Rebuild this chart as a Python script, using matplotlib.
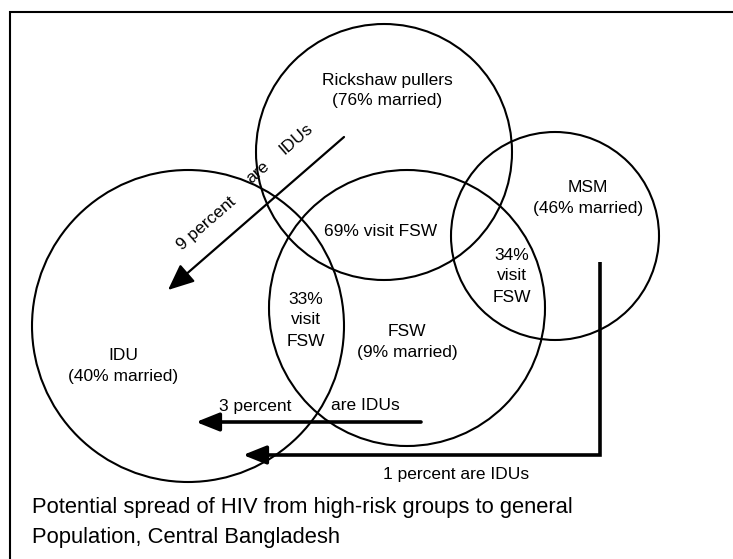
import matplotlib
matplotlib.use("Agg")
import matplotlib.pyplot as plt
from matplotlib.patches import Circle

plt.rcParams['font.family'] = ['Liberation Sans', 'DejaVu Sans']

# data
groups = ["Rickshaw pullers", "MSM", "FSW", "IDU"]
married_pct = [76, 46, 9, 40]
visit_fsw_pct = [69, 34, 33]      # rickshaw pullers, MSM, IDU
idu_pct = [9, 3, 1]               # rickshaw pullers, FSW, MSM
caption = ["Potential spread of HIV from high-risk groups to general",
           "Population, Central Bangladesh"]

# layout (pixel coords, y down)
centers = [(384, 152), (555, 236), (407, 308), (188, 326)]
radii = [128, 104, 138, 156]

fig = plt.figure(figsize=(7.33, 5.59), dpi=100)
ax = fig.add_axes([0, 0, 1, 1])
ax.set_xlim(0, 733)
ax.set_ylim(559, 0)
ax.axis("off")

# frame (only top and left are visible)
ax.plot([10, 10, 733], [559, 12, 12], color="black", lw=1.5, solid_joinstyle="miter")

for (cx, cy), r in zip(centers, radii):
    ax.add_patch(Circle((cx, cy), r, fill=False, ec="black", lw=1.5, zorder=3))

fs = 12.5
# group labels
label_pos = [(387, 80), (588, 187), (407, 331), (123, 356)]
for g, m, (x, y) in zip(groups, married_pct, label_pos):
    ax.text(x, y, g, ha="center", va="center", fontsize=fs)
    ax.text(x, y + 21, "(%d%% married)" % m, ha="center", va="center", fontsize=fs)

# overlaps
ax.text(381, 232, "%d%% visit FSW" % visit_fsw_pct[0], ha="center", va="center", fontsize=fs)
for x, y, p in [(512, 255, visit_fsw_pct[1]), (306, 299, visit_fsw_pct[2])]:
    ax.text(x, y, "%d%%" % p, ha="center", va="center", fontsize=fs)
    ax.text(x, y + 21, "visit", ha="center", va="center", fontsize=fs)
    ax.text(x, y + 42, "FSW", ha="center", va="center", fontsize=fs)

# 9 percent arrow (rickshaw -> IDU)
ax.annotate("", xy=(168, 290), xytext=(344, 137),
            arrowprops=dict(arrowstyle="-|>,head_length=0.8,head_width=0.35",
                            mutation_scale=20, color="black", lw=1.6,
                            shrinkA=0, shrinkB=0), zorder=4)
ax.text(206, 224, "%d percent" % idu_pct[0], rotation=41, ha="center", va="center", fontsize=fs)
ax.text(258, 172, "are", rotation=41, ha="center", va="center", fontsize=fs)
ax.text(296, 139, "IDUs", rotation=41, ha="center", va="center", fontsize=fs)

# 3 percent arrow (FSW -> IDU)
ax.annotate("", xy=(196, 422), xytext=(421, 422),
            arrowprops=dict(arrowstyle="-|>,head_length=0.7,head_width=0.28",
                            mutation_scale=20, color="black", lw=2.6,
                            shrinkA=0, shrinkB=0), zorder=4)
ax.text(255, 406, "%d percent" % idu_pct[1], ha="center", va="center", fontsize=fs)
ax.text(365, 406, "are IDUs", ha="center", va="center", fontsize=fs)

# 1 percent arrow (MSM -> IDU)
ax.plot([600, 600, 262], [262, 455, 455], color="black", lw=2.6,
        solid_joinstyle="miter", solid_capstyle="butt", zorder=4)
ax.annotate("", xy=(243, 455), xytext=(264, 455),
            arrowprops=dict(arrowstyle="-|>,head_length=0.7,head_width=0.28",
                            mutation_scale=20, color="black", lw=2.6,
                            shrinkA=0, shrinkB=0), zorder=4)
ax.text(456, 475, "%d percent are IDUs" % idu_pct[2], ha="center", va="center", fontsize=fs)

# caption
ax.text(32, 508, caption[0], ha="left", va="center", fontsize=15.8)
ax.text(32, 538, caption[1], ha="left", va="center", fontsize=15.8)

fig.savefig("out.png", dpi=100)
